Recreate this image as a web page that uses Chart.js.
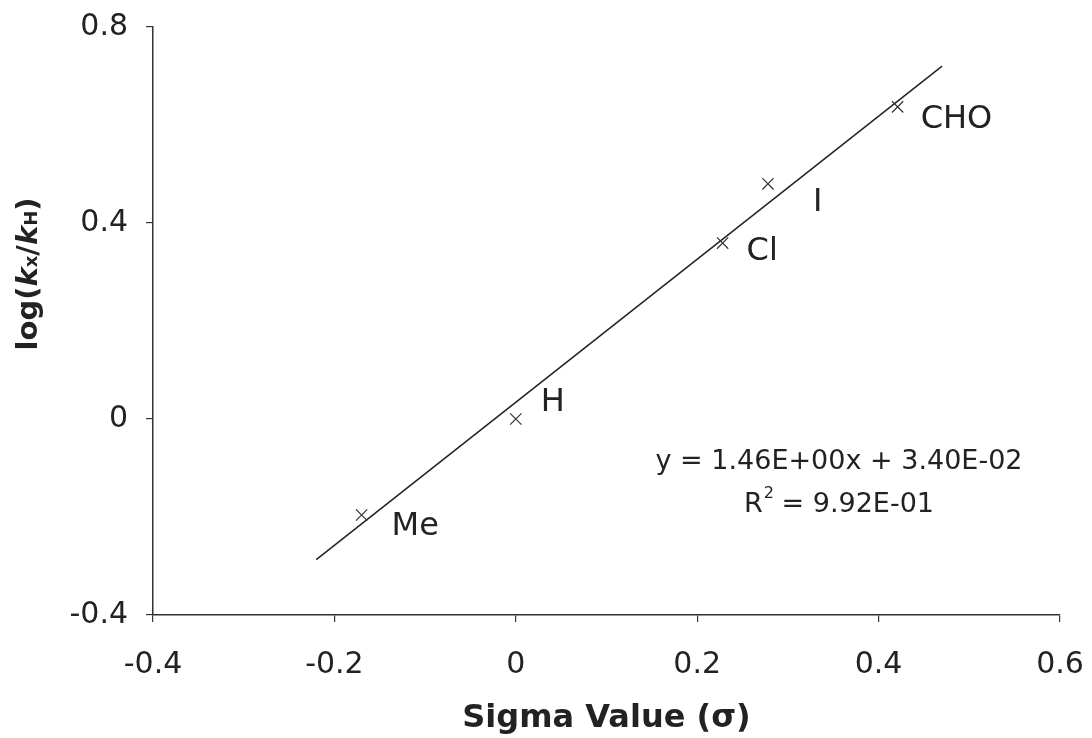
<!DOCTYPE html>
<html>
<head>
<meta charset="utf-8">
<script src="https://cdn.jsdelivr.net/npm/chart.js@4.4.1/dist/chart.umd.min.js"></script>
<style>
  html, body { margin: 0; padding: 0; background: #fff; }
  #wrap { width: 1092px; height: 738px; position: relative; }
</style>
</head>
<body>
<div id="wrap"><canvas id="chart"></canvas></div>
<script>
// ===== Data =====
const substituents = ['Me', 'H', 'Cl', 'I', 'CHO'];
const sigmaValues = [-0.17, 0, 0.228, 0.278, 0.421];
const logRatios = [-0.196, 0, 0.359, 0.48, 0.637];
const trendX = [-0.22, 0.47];
const trendY = [-0.287, 0.720];
const xTicks = [-0.4, -0.2, 0, 0.2, 0.4, 0.6];
const yTicks = [-0.4, 0, 0.4, 0.8];
const equationText = 'y = 1.46E+00x + 3.40E-02';
const r2Text = '9.92E-01';

const FONT = "'DejaVu Sans', Verdana, sans-serif";
const INK = '#222';

// label offsets (px) from each point
const labelOffsets = [[30, 12], [25, -16], [24, 9], [45, 19], [23, 13]];

const labelsPlugin = {
  id: 'labels',
  afterDraw(chart) {
    const ctx = chart.ctx;
    const xs = chart.scales.x, ys = chart.scales.y;
    ctx.save();
    ctx.fillStyle = INK;
    ctx.font = '32px ' + FONT;
    ctx.textBaseline = 'middle';
    ctx.textAlign = 'left';
    substituents.forEach((name, i) => {
      const px = xs.getPixelForValue(sigmaValues[i]) + labelOffsets[i][0];
      const py = ys.getPixelForValue(logRatios[i]) + labelOffsets[i][1];
      ctx.fillText(name, px, py);
    });

    // regression text
    ctx.font = '27px ' + FONT;
    ctx.textAlign = 'center';
    ctx.fillText(equationText, 839, 462);
    const r2Prefix = 'R';
    const r2Rest = ' = ' + r2Text;
    const w1 = ctx.measureText(r2Prefix).width;
    ctx.font = '16px ' + FONT;
    const w2 = ctx.measureText('2').width;
    ctx.font = '27px ' + FONT;
    const w3 = ctx.measureText(r2Rest).width;
    let sx = 839 - (w1 + w2 + w3) / 2;
    ctx.textAlign = 'left';
    ctx.fillText(r2Prefix, sx, 505);
    ctx.font = '16px ' + FONT;
    ctx.fillText('2', sx + w1 + 1, 494);
    ctx.font = '27px ' + FONT;
    ctx.fillText(r2Rest, sx + w1 + w2, 505);

    // y axis title with italic k and subscripts
    const parts = [
      ['log(', 'bold 29px ' + FONT, 0],
      ['k', 'italic bold 29px ' + FONT, 0],
      ['x', 'bold 18px ' + FONT, 3],
      ['/', 'bold 29px ' + FONT, 0],
      ['k', 'italic bold 29px ' + FONT, 0],
      ['H', 'bold 18px ' + FONT, 3],
      [')', 'bold 29px ' + FONT, 0],
    ];
    let total = 0;
    parts.forEach(p => { ctx.font = p[1]; total += ctx.measureText(p[0]).width; });
    ctx.translate(29, 274);
    ctx.rotate(-Math.PI / 2);
    let cx = -total / 2;
    parts.forEach(p => {
      ctx.font = p[1];
      ctx.fillText(p[0], cx, p[2]);
      cx += ctx.measureText(p[0]).width;
    });
    ctx.restore();
  }
};

new Chart(document.getElementById('chart'), {
  type: 'scatter',
  data: {
    datasets: [
      {
        label: 'log ratio',
        data: sigmaValues.map((x, i) => ({ x, y: logRatios[i] })),
        pointStyle: 'crossRot',
        pointRadius: 8,
        pointBorderColor: '#333',
        pointBorderWidth: 1.2,
        pointBackgroundColor: '#333',
      },
      {
        label: 'trend',
        type: 'line',
        data: trendX.map((x, i) => ({ x, y: trendY[i] })),
        borderColor: '#222',
        borderWidth: 1.5,
        pointRadius: 0,
        fill: false,
      },
    ],
  },
  options: {
    responsive: true,
    maintainAspectRatio: false,
    animation: false,
    layout: { padding: { left: 0, top: 27, right: 32, bottom: 0 } },
    scales: {
      x: {
        type: 'linear',
        min: -0.4,
        max: 0.6,
        afterBuildTicks: (s) => { s.ticks = xTicks.map(v => ({ value: v })); },
        afterFit: (s) => {
          s.height = 123;
          s.paddingLeft = 0;
          s.paddingRight = 0;
        },
        border: { color: '#333', width: 1.5 },
        grid: { drawOnChartArea: false, tickLength: 7, color: '#333', lineWidth: 1.2 },
        ticks: {
          color: INK,
          padding: 25,
          font: { family: FONT, size: 30 },
          callback: (v) => String(v),
        },
        title: {
          display: true,
          text: 'Sigma Value (σ)',
          color: INK,
          font: { family: FONT, size: 32, weight: 'bold' },
          padding: { top: 12, bottom: 0 },
        },
      },
      y: {
        type: 'linear',
        min: -0.4,
        max: 0.8,
        afterBuildTicks: (s) => { s.ticks = yTicks.map(v => ({ value: v })); },
        afterFit: (s) => {
          s.width = 153;
          s.paddingTop = 0;
          s.paddingBottom = 0;
        },
        border: { color: '#333', width: 1.5 },
        grid: { drawOnChartArea: false, tickLength: 7, color: '#333', lineWidth: 1.2 },
        ticks: {
          color: INK,
          padding: 18,
          font: { family: FONT, size: 30 },
          callback: (v) => String(v),
        },
      },
    },
    plugins: {
      legend: { display: false },
      tooltip: { enabled: false },
    },
  },
  plugins: [labelsPlugin],
});
</script>
</body>
</html>
